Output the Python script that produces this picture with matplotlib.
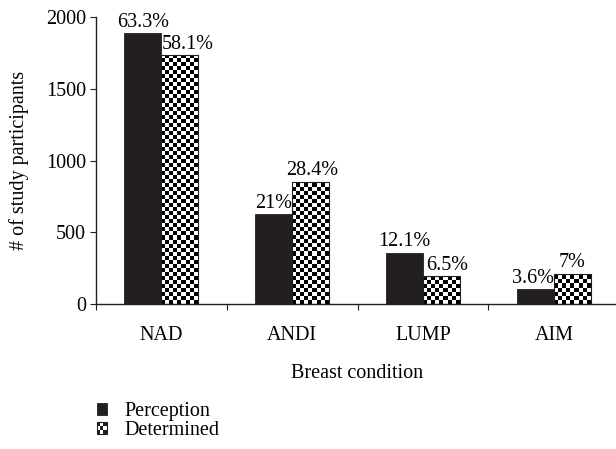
import numpy as np
import matplotlib
matplotlib.use("Agg")
import matplotlib.pyplot as plt
from matplotlib.patches import Rectangle
from matplotlib.legend_handler import HandlerBase

plt.rcParams['font.family'] = ['Liberation Serif', 'DejaVu Serif']
plt.rcParams['font.size'] = 14.5

categories = ["NAD", "ANDI", "LUMP", "AIM"]
perception = [1888, 625, 358, 102]
determined = [1737, 852, 193, 211]
perception_pct = ["63.3%", "21%", "12.1%", "3.6%"]
determined_pct = ["58.1%", "28.4%", "6.5%", "7%"]
y_ticks = [0, 500, 1000, 1500, 2000]

dark = "#231f20"


def checker(nx, ny):
    xx, yy = np.meshgrid(np.arange(nx), np.arange(ny))
    return ((xx + yy) % 2).astype(float)


class CheckerHandler(HandlerBase):
    # legend key drawn as a small 3x3 checkerboard
    def create_artists(self, legend, orig_handle, xdescent, ydescent,
                       width, height, fontsize, trans):
        arts = []
        n = 3
        cw, ch = width / n, height / n
        for i in range(n):
            for j in range(n):
                c = dark if (i + j) % 2 == 0 else "white"
                arts.append(Rectangle((-xdescent + i * cw, -ydescent + j * ch), cw, ch,
                                      facecolor=c, edgecolor="none", transform=trans))
        arts.append(Rectangle((-xdescent, -ydescent), width, height, facecolor="none",
                              edgecolor=dark, lw=0.8, transform=trans))
        return arts


fig = plt.figure(figsize=(6.16, 4.49), dpi=100)
ax = fig.add_axes([0.1554, 0.3229, 0.85, 0.6386])

x = np.arange(len(categories))
w = 0.283
b1 = ax.bar(x - w / 2, perception, w, color=dark, edgecolor=dark, lw=0.6, label="Perception")
b2 = ax.bar(x + w / 2, determined, w, facecolor="white", edgecolor=dark, lw=0.8, label="Determined")

# checkerboard fill clipped to each determined bar (~4 px cells)
cell_x = 0.0305
cell_y = 28.0
for r in b2:
    x0, y0 = r.get_x(), r.get_y()
    bw, bh = r.get_width(), r.get_height()
    nx = int(np.ceil(bw / cell_x))
    ny = int(np.ceil(bh / cell_y))
    im = ax.imshow(checker(nx, ny), extent=[x0, x0 + nx * cell_x, y0, y0 + ny * cell_y],
                   origin="lower", cmap="gray", vmin=0, vmax=1, interpolation="nearest",
                   aspect="auto", zorder=r.get_zorder())
    im.set_clip_path(r)
    r.set_zorder(r.get_zorder() + 0.1)
    r.set_facecolor("none")

# small nudges (points) so labels don't run into neighbouring bars
perc_dx = [0, 0, 0, -2]
det_dx = [6, 1, 4, 0]
for r, t, dx in zip(b1, perception_pct, perc_dx):
    ax.annotate(t, (r.get_x() + r.get_width() / 2, r.get_height()), xytext=(dx, 1),
                textcoords="offset points", ha="center", va="bottom")
for r, t, dx in zip(b2, determined_pct, det_dx):
    ax.annotate(t, (r.get_x() + r.get_width() / 2, r.get_height()), xytext=(dx, 1),
                textcoords="offset points", ha="center", va="bottom")

ax.set_xlim(-0.5, 3.5)
ax.set_ylim(0, 2000)
ax.set_yticks(y_ticks)
ax.set_xticks(np.arange(-0.5, 3.6, 1.0))
ax.set_xticklabels([])
ax.set_xticks(x, minor=True)
ax.set_xticklabels(categories, minor=True)
ax.tick_params(axis="x", which="minor", length=0, pad=15.5)
ax.tick_params(axis="x", which="major", direction="out", length=4, color=dark)
ax.tick_params(axis="y", direction="out", length=4, color=dark, pad=3)
for s in ["top", "right"]:
    ax.spines[s].set_visible(False)
for s in ["left", "bottom"]:
    ax.spines[s].set_color(dark)
    ax.spines[s].set_linewidth(1.0)

ax.set_ylabel("# of study participants", labelpad=12)
ax.set_xlabel("Breast condition", labelpad=14)

fig.legend([b1, b2[0]], ["Perception", "Determined"],
           handler_map={b2[0]: CheckerHandler()},
           loc="upper left", bbox_to_anchor=(0.157, 0.104), bbox_transform=fig.transFigure,
           frameon=False, handlelength=0.5, handleheight=0.5, handletextpad=0.9,
           labelspacing=0.0, borderpad=0, borderaxespad=0)

fig.savefig("out.png", dpi=100)
